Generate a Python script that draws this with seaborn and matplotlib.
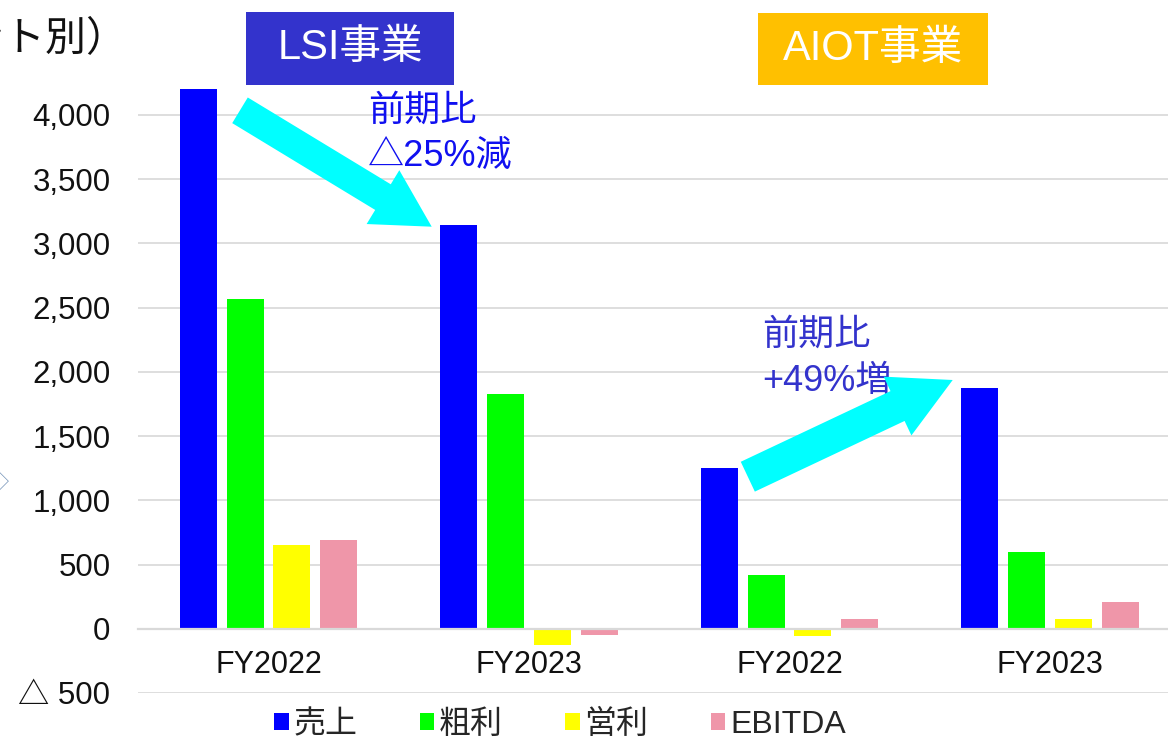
import numpy as np
import pandas as pd
import seaborn as sns
import matplotlib
matplotlib.use("Agg")
import matplotlib.pyplot as plt
from matplotlib.patches import FancyArrow, Rectangle
from matplotlib.transforms import IdentityTransform
from matplotlib.ticker import FuncFormatter, MultipleLocator

# ---------------- data ----------------
segments = ["LSI", "LSI", "AIOT", "AIOT"]
years = ["FY2022", "FY2023", "FY2022", "FY2023"]
sales = [4200, 3140, 1255, 1875]
gross_profit = [2570, 1830, 415, 600]
operating_profit = [655, -125, -60, 78]
ebitda = [693, -45, 75, 212]
metrics = ["売上", "粗利", "営利", "EBITDA"]
metric_colors = ["#0000FF", "#00FF00", "#FFFF00", "#EF96A9"]

keys = [f"{s} {y}" for s, y in zip(segments, years)]
rows = []
for i, k in enumerate(keys):
    for m, vals in zip(metrics, [sales, gross_profit, operating_profit, ebitda]):
        rows.append({"key": k, "metric": m, "value": vals[i]})
df = pd.DataFrame(rows)

# ---------------- style ----------------
sns.set_theme(style="white")
plt.rcParams["font.family"] = ["Liberation Sans", "Noto Sans CJK JP", "DejaVu Sans"]

W, H = 1168, 742
fig = plt.figure(figsize=(W / 100, H / 100), dpi=100)
fig.patch.set_facecolor("white")


def px(x, y):
    return x / W, 1 - y / H


# axes placement (plot area partially cropped on the right, as in reference)
ax_left, ax_right = 138.25, 1180.25
y_top_val, y_bot_val = 4300, -500
y_top_px = 115 - (y_top_val - 4000) * (578 / 4500)
y_bot_px = 693
ax = fig.add_axes([ax_left / W, 1 - y_bot_px / H,
                   (ax_right - ax_left) / W, (y_bot_px - y_top_px) / H])

sns.barplot(data=df, x="key", y="value", hue="metric", order=keys,
            hue_order=metrics, palette=metric_colors, width=0.72, gap=0.21,
            linewidth=0, saturation=1, ax=ax, legend=True)

ax.set_xlim(-0.5, 3.5)
ax.set_ylim(y_bot_val, y_top_val)
ax.yaxis.set_major_locator(MultipleLocator(500))
ax.yaxis.set_major_formatter(FuncFormatter(
    lambda v, p: ("△ {:,}".format(int(-v)) if v < 0 else "{:,}".format(int(v)))))
ax.grid(axis="y", color="#DEDEDE", linewidth=1.4)
ax.set_axisbelow(True)
for s in ["top", "right", "left"]:
    ax.spines[s].set_visible(False)
ax.spines["bottom"].set_position(("data", 0))
ax.spines["bottom"].set_color("#D9D9D9")
ax.spines["bottom"].set_linewidth(1.6)
ax.set_xticks(range(len(keys)))
ax.set_xticklabels(years)
ax.set_xlabel("")
ax.set_ylabel("")
ax.tick_params(axis="y", length=0, pad=20, labelsize=22.5, labelcolor="#111111")
ax.tick_params(axis="x", length=0, pad=15, labelsize=22, labelcolor="#111111")

# legend
sns.move_legend(ax, loc="center", bbox_to_anchor=px(560, 725),
                bbox_transform=fig.transFigure, ncol=4, frameon=False,
                title=None, fontsize=23, handlelength=0.45, handleheight=0.45,
                handletextpad=0.15, columnspacing=1.95, borderaxespad=0)

# ---------------- annotations ----------------
# cropped title at top-left
fig.text(*px(128, 40), "（セグメント別）", ha="right", va="center",
         fontsize=29.5, color="#111111")
# partial diamond bullet at left edge
fig.text(*px(0, 483), "◇", ha="center", va="center", fontsize=13,
         color="#6F8FB5")

# segment label boxes
for (x0, y0, x1, y1, label, col) in [
        (246, 12, 454, 85, "LSI事業", "#3333CC"),
        (758, 13, 988, 85, "AIOT事業", "#FFC000")]:
    fx0, fy1 = px(x0, y0)
    fx1, fy0 = px(x1, y1)
    fig.add_artist(Rectangle((fx0, fy0), fx1 - fx0, fy1 - fy0,
                             transform=fig.transFigure, facecolor=col,
                             edgecolor="none", zorder=5))
    fig.text((fx0 + fx1) / 2, (fy0 + fy1) / 2, label, ha="center",
             va="center", color="white", fontsize=30, zorder=6)

# cyan block arrows (pixel coordinates)
def block_arrow(x0, y0, x1, y1, width, head_w, head_l):
    a = FancyArrow(x0, H - y0, x1 - x0, -(y1 - y0), width=width,
                   head_width=head_w, head_length=head_l,
                   length_includes_head=True, transform=IdentityTransform(),
                   facecolor="#00FFFF", edgecolor="none", zorder=4)
    fig.add_artist(a)

block_arrow(240, 110.3, 431.7, 226.7, 30, 63, 57)
block_arrow(747.8, 476.7, 952.7, 380, 33, 65, 61)

fig.text(*px(368, 111), "前期比", ha="left", va="center", fontsize=26,
         color="#1010F0")
fig.text(*px(368, 156), "△25%減", ha="left", va="center", fontsize=26,
         color="#1010F0")
fig.text(*px(762, 335), "前期比", ha="left", va="center", fontsize=26,
         color="#3333CC")
fig.text(*px(762, 381), "+49%増", ha="left", va="center", fontsize=26,
         color="#3333CC")

fig.savefig("out.png", dpi=100, facecolor="white")
